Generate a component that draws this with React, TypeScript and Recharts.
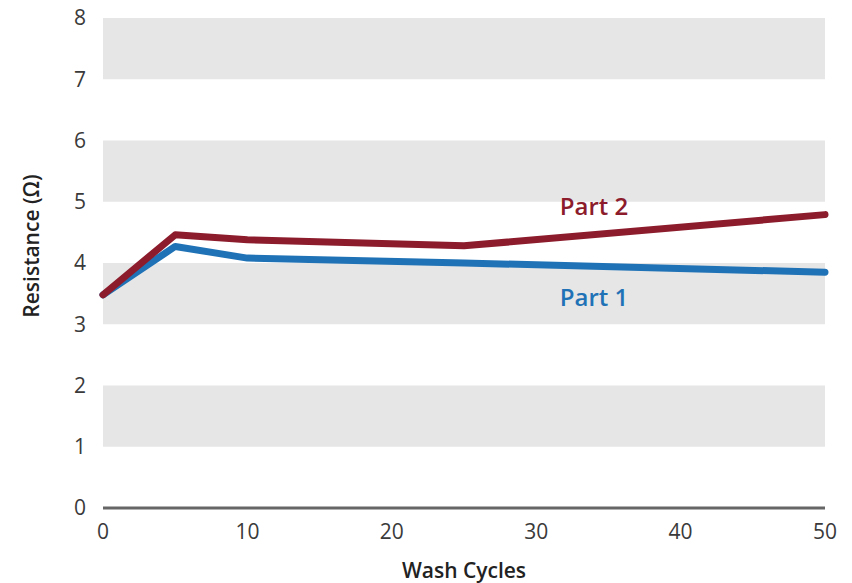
import React from "react";
import {
  LineChart,
  Line,
  XAxis,
  YAxis,
  ReferenceArea,
  ReferenceDot,
} from "recharts";

const washCycles = [0, 5, 10, 25, 50];
const part1 = [3.48, 4.27, 4.08, 4.0, 3.85];
const part2 = [3.48, 4.46, 4.38, 4.28, 4.79];

const xTicks = [0, 10, 20, 30, 40, 50];
const yTicks = [0, 1, 2, 3, 4, 5, 6, 7, 8];
const bands: [number, number][] = [
  [1, 2],
  [3, 4],
  [5, 6],
  [7, 8],
];

const seriesLabels = [
  { name: "Part 2", x: 34, y: 4.92, color: "#8c1c2c" },
  { name: "Part 1", x: 34, y: 3.44, color: "#1f72b6" },
];

const data = washCycles.map((c, i) => ({ cycles: c, part1: part1[i], part2: part2[i] }));

const font = "'Open Sans', sans-serif";

export default function App() {
  return (
    <div style={{ position: "absolute", left: 0, top: 0, background: "#fff", fontFamily: font }}>
      <LineChart width={852} height={583} data={data} margin={{ top: 18, right: 27, left: 0, bottom: 0 }}>
        {bands.map(([a, b]) => (
          <ReferenceArea key={a} y1={a} y2={b} fill="#e6e6e6" fillOpacity={1} stroke="none" />
        ))}
        <XAxis
          dataKey="cycles"
          type="number"
          domain={[0, 50]}
          ticks={xTicks}
          height={75}
          tickLine={false}
          axisLine={{ stroke: "#666", strokeWidth: 3 }}
          tickMargin={10}
          tick={{ fontSize: 21, fill: "#3a3a3a", fontFamily: font }}
          label={{
            value: "Wash Cycles",
            position: "insideBottom",
            offset: 5,
            fill: "#222",
            fontSize: 21,
            fontWeight: 600,
            fontFamily: font,
          }}
        />
        <YAxis
          type="number"
          domain={[0, 8]}
          ticks={yTicks}
          width={103}
          tickLine={false}
          axisLine={false}
          tickMargin={11}
          tick={{ fontSize: 21, fill: "#3a3a3a", fontFamily: font }}
          label={{
            content: () => (
              <text
                x={31}
                y={246}
                transform="rotate(-90 31 246)"
                textAnchor="middle"
                dominantBaseline="central"
                fill="#222"
                fontSize={21}
                fontWeight={600}
                fontFamily={font}
              >
                Resistance (Ω)
              </text>
            ),
          }}
        />
        <Line
          dataKey="part1"
          stroke="#1f72b6"
          strokeWidth={7}
          strokeLinecap="round"
          strokeLinejoin="round"
          dot={false}
          activeDot={false}
          isAnimationActive={false}
        />
        <Line
          dataKey="part2"
          stroke="#8c1c2c"
          strokeWidth={7}
          strokeLinecap="round"
          strokeLinejoin="round"
          dot={false}
          activeDot={false}
          isAnimationActive={false}
        />
        {seriesLabels.map((s) => (
          <ReferenceDot
            key={s.name}
            x={s.x}
            y={s.y}
            r={0}
            fill="none"
            stroke="none"
            label={{
              value: s.name,
              position: "center",
              fill: s.color,
              fontSize: 24,
              fontWeight: 600,
              fontFamily: font,
            }}
          />
        ))}
      </LineChart>
    </div>
  );
}
